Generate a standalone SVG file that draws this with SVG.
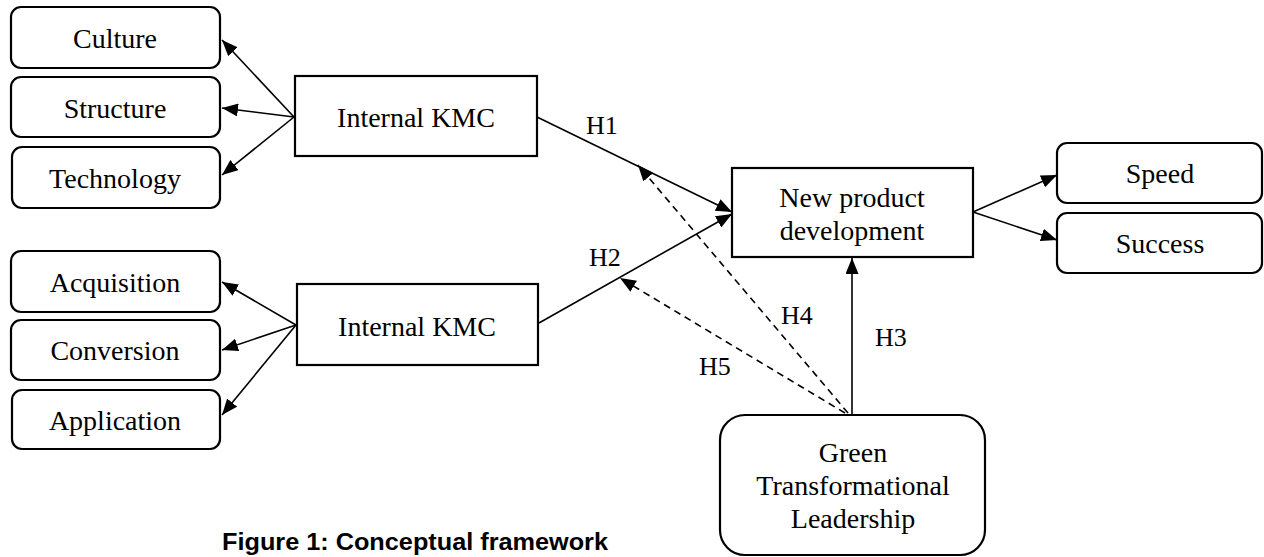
<svg xmlns="http://www.w3.org/2000/svg" width="1264" height="557" viewBox="0 0 1264 557">
<style>
.box{fill:#fff;stroke:#000;stroke-width:2.2}
.t{font-family:"Liberation Serif","Times New Roman",serif;font-size:28px;fill:#000;text-anchor:middle}
.h{font-family:"Liberation Serif","Times New Roman",serif;font-size:26px;fill:#000}
.ln{stroke:#000;stroke-width:1.6;fill:none;marker-end:url(#ah)}
.ds{stroke:#000;stroke-width:1.6;fill:none;stroke-dasharray:7 5;marker-end:url(#ah)}
.cap{font-family:"Liberation Sans",Arial,sans-serif;font-weight:bold;font-size:24px;fill:#000}
</style>
<defs>
<marker id="ah" markerUnits="userSpaceOnUse" markerWidth="17" markerHeight="13" refX="16" refY="6.5" orient="auto">
<path d="M0,0 L16,6.5 L0,13 Z" fill="#000"/>
</marker>
</defs>
<rect width="1264" height="557" fill="#fff"/>
<g id="connectors">
<line class="ln" x1="294" y1="117" x2="222" y2="40"/>
<line class="ln" x1="294" y1="117" x2="222" y2="108"/>
<line class="ln" x1="294" y1="117" x2="222" y2="175"/>
<line class="ln" x1="296" y1="325" x2="222" y2="282"/>
<line class="ln" x1="296" y1="325" x2="222" y2="350"/>
<line class="ln" x1="296" y1="325" x2="222" y2="415"/>
<line class="ln" x1="537" y1="117" x2="732" y2="212"/>
<line class="ln" x1="539" y1="323" x2="732" y2="214"/>
<line class="ln" x1="973" y1="212" x2="1057" y2="175"/>
<line class="ln" x1="973" y1="212" x2="1057" y2="240"/>
<line class="ln" x1="852" y1="414" x2="852" y2="258"/>
<line class="ds" x1="848" y1="413" x2="638" y2="165"/>
<line class="ds" x1="845" y1="413" x2="620" y2="278"/>
<text class="h" x="586" y="134">H1</text>
<text class="h" x="589" y="266">H2</text>
<text class="h" x="875" y="346">H3</text>
<text class="h" x="781" y="324">H4</text>
<text class="h" x="699" y="375">H5</text>
</g>
<g id="culture"><rect class="box" x="11" y="7" width="209" height="61" rx="10"/><text class="t" x="115" y="48">Culture</text></g>
<g id="structure"><rect class="box" x="11" y="77" width="209" height="60" rx="10"/><text class="t" x="115" y="118">Structure</text></g>
<g id="technology"><rect class="box" x="12" y="147" width="208" height="61" rx="10"/><text class="t" x="115" y="188">Technology</text></g>
<g id="internal-kmc-1"><rect class="box" x="295" y="76" width="242" height="80"/><text class="t" x="416" y="127">Internal KMC</text></g>
<g id="acquisition"><rect class="box" x="11" y="251" width="209" height="61" rx="10"/><text class="t" x="115" y="292">Acquisition</text></g>
<g id="conversion"><rect class="box" x="11" y="320" width="209" height="60" rx="10"/><text class="t" x="115" y="360">Conversion</text></g>
<g id="application"><rect class="box" x="12" y="390" width="208" height="59" rx="10"/><text class="t" x="115" y="430">Application</text></g>
<g id="internal-kmc-2"><rect class="box" x="297" y="284" width="241" height="81"/><text class="t" x="417" y="336">Internal KMC</text></g>
<g id="npd"><rect class="box" x="732" y="168" width="241" height="89"/><text class="t" x="852" y="207">New product</text><text class="t" x="852" y="240">development</text></g>
<g id="speed"><rect class="box" x="1057" y="143" width="205" height="60" rx="10"/><text class="t" x="1160" y="183">Speed</text></g>
<g id="success"><rect class="box" x="1057" y="213" width="205" height="60" rx="10"/><text class="t" x="1160" y="253">Success</text></g>
<g id="gtl"><rect class="box" x="720" y="415" width="265" height="140" rx="25"/><text class="t" x="853" y="462">Green</text><text class="t" x="853" y="495">Transformational</text><text class="t" x="853" y="528">Leadership</text></g>
<g id="caption"><text class="cap" x="222" y="550" textLength="386" lengthAdjust="spacingAndGlyphs">Figure 1: Conceptual framework</text></g>
</svg>
